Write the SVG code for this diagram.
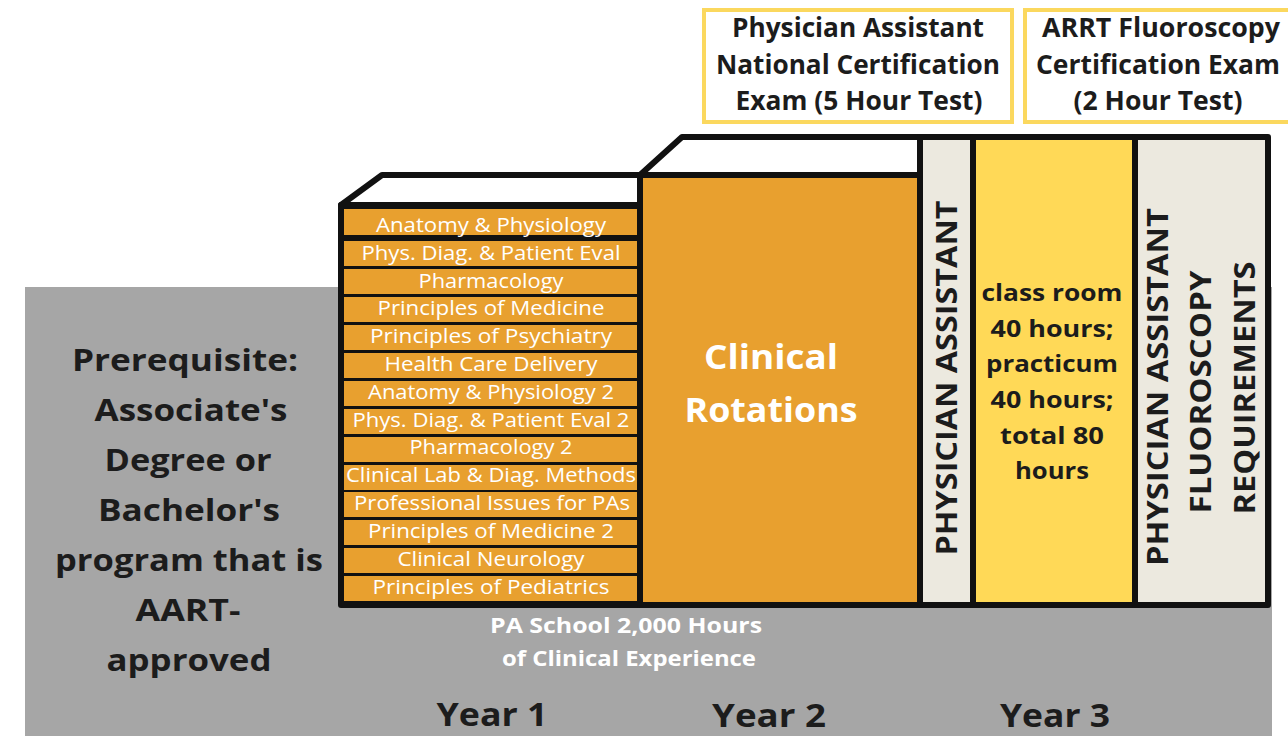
<svg xmlns="http://www.w3.org/2000/svg" width="1288" height="736" viewBox="0 0 1288 736">
<style>
.ln{stroke:#111;stroke-width:6;stroke-linejoin:round}
.course{font-family:"Open Sans","Liberation Sans",sans-serif;font-size:20px;fill:#fff;text-anchor:middle}
.dark{font-family:"Open Sans","Liberation Sans",sans-serif;font-weight:bold;fill:#1c1c1c;text-anchor:middle}
.vert{font-family:"Open Sans","Liberation Sans",sans-serif;font-weight:bold;fill:#1c1c1c;text-anchor:middle;font-size:29px}
.white{font-family:"Open Sans","Liberation Sans",sans-serif;font-weight:bold;fill:#fff;text-anchor:middle}
.exam{fill:#fff;stroke:#FBD85E;stroke-width:4}
.row{fill:#E8A02F}
</style>
<rect id="background" x="25" y="287" width="1247" height="449" fill="#A6A6A6"/>

<g id="exam-pa">
<rect class="exam" x="704" y="10" width="308" height="112"/>
<text class="dark" font-size="26" x="858" y="37" textLength="252" lengthAdjust="spacingAndGlyphs">Physician Assistant</text>
<text class="dark" font-size="26" x="858" y="74" textLength="284" lengthAdjust="spacingAndGlyphs">National Certification</text>
<text class="dark" font-size="26" x="859" y="110" textLength="247" lengthAdjust="spacingAndGlyphs">Exam (5 Hour Test)</text>
</g>
<g id="exam-arrt">
<rect class="exam" x="1025" y="10" width="270" height="112"/>
<text class="dark" font-size="26" x="1161" y="37" textLength="238" lengthAdjust="spacingAndGlyphs">ARRT Fluoroscopy</text>
<text class="dark" font-size="26" x="1158" y="74" textLength="244" lengthAdjust="spacingAndGlyphs">Certification Exam</text>
<text class="dark" font-size="26" x="1158" y="110" textLength="169" lengthAdjust="spacingAndGlyphs">(2 Hour Test)</text>
</g>

<g id="prerequisite">
<text class="dark" font-size="31" x="185" y="371" textLength="226" lengthAdjust="spacingAndGlyphs">Prerequisite:</text>
<text class="dark" font-size="31" x="191" y="421" textLength="193" lengthAdjust="spacingAndGlyphs">Associate's</text>
<text class="dark" font-size="31" x="188" y="471" textLength="167" lengthAdjust="spacingAndGlyphs">Degree or</text>
<text class="dark" font-size="31" x="189" y="521" textLength="182" lengthAdjust="spacingAndGlyphs">Bachelor's</text>
<text class="dark" font-size="31" x="189" y="571" textLength="268" lengthAdjust="spacingAndGlyphs">program that is</text>
<text class="dark" font-size="31" x="188" y="621" textLength="105" lengthAdjust="spacingAndGlyphs">AART-</text>
<text class="dark" font-size="31" x="189" y="671" textLength="165" lengthAdjust="spacingAndGlyphs">approved</text>
</g>

<g id="year1">
<polygon class="ln" fill="#fff" points="341,205 382,175 640,175 640,205"/>
<rect class="ln" x="341" y="205" width="299" height="400" fill="#111"/>
<g>
<rect class="row" x="344" y="209" width="293" height="26"/>
<rect class="row" x="344" y="241" width="293" height="25"/>
<rect class="row" x="344" y="269" width="293" height="25"/>
<rect class="row" x="344" y="297" width="293" height="25"/>
<rect class="row" x="344" y="325" width="293" height="25"/>
<rect class="row" x="344" y="353" width="293" height="25"/>
<rect class="row" x="344" y="381" width="293" height="25"/>
<rect class="row" x="344" y="409" width="293" height="25"/>
<rect class="row" x="344" y="437" width="293" height="25"/>
<rect class="row" x="344" y="465" width="293" height="25"/>
<rect class="row" x="344" y="492" width="293" height="25"/>
<rect class="row" x="344" y="520" width="293" height="25"/>
<rect class="row" x="344" y="548" width="293" height="25"/>
<rect class="row" x="344" y="576" width="293" height="25"/>
</g>
<text class="course" x="491" y="232" textLength="230" lengthAdjust="spacingAndGlyphs">Anatomy &amp; Physiology</text>
<text class="course" x="491" y="260" textLength="259" lengthAdjust="spacingAndGlyphs">Phys. Diag. &amp; Patient Eval</text>
<text class="course" x="491" y="288" textLength="145" lengthAdjust="spacingAndGlyphs">Pharmacology</text>
<text class="course" x="491" y="315" textLength="227" lengthAdjust="spacingAndGlyphs">Principles of Medicine</text>
<text class="course" x="491" y="343" textLength="242" lengthAdjust="spacingAndGlyphs">Principles of Psychiatry</text>
<text class="course" x="491" y="371" textLength="213" lengthAdjust="spacingAndGlyphs">Health Care Delivery</text>
<text class="course" x="491" y="399" textLength="246" lengthAdjust="spacingAndGlyphs">Anatomy &amp; Physiology 2</text>
<text class="course" x="491" y="427" textLength="277" lengthAdjust="spacingAndGlyphs">Phys. Diag. &amp; Patient Eval 2</text>
<text class="course" x="491" y="454" textLength="163" lengthAdjust="spacingAndGlyphs">Pharmacology 2</text>
<text class="course" x="491" y="482" textLength="290" lengthAdjust="spacingAndGlyphs">Clinical Lab &amp; Diag. Methods</text>
<text class="course" x="492" y="510" textLength="276" lengthAdjust="spacingAndGlyphs">Professional Issues for PAs</text>
<text class="course" x="491" y="538" textLength="246" lengthAdjust="spacingAndGlyphs">Principles of Medicine 2</text>
<text class="course" x="491" y="566" textLength="187" lengthAdjust="spacingAndGlyphs">Clinical Neurology</text>
<text class="course" x="491" y="594" textLength="237" lengthAdjust="spacingAndGlyphs">Principles of Pediatrics</text>
</g>

<g id="year2">
<polygon class="ln" fill="#fff" points="640,175 682,137 920,137 920,175"/>
<rect class="ln" x="640" y="175" width="280" height="430" fill="#E8A02F"/>
<text class="white" font-size="34" x="771" y="369" textLength="134" lengthAdjust="spacingAndGlyphs">Clinical</text>
<text class="white" font-size="34" x="771" y="422" textLength="173" lengthAdjust="spacingAndGlyphs">Rotations</text>
</g>

<g id="year3">
<rect class="ln" x="920" y="137" width="53" height="468" fill="#ECE9DF"/>
<rect class="ln" x="973" y="137" width="162" height="468" fill="#FFD957"/>
<rect class="ln" x="1135" y="137" width="133" height="468" fill="#ECE9DF"/>
<text class="vert" transform="translate(957,378) rotate(-90)" textLength="355" lengthAdjust="spacingAndGlyphs">PHYSICIAN ASSISTANT</text>
<text class="dark" font-size="23" x="1052" y="301" textLength="141" lengthAdjust="spacingAndGlyphs">class room</text>
<text class="dark" font-size="23" x="1052" y="337" textLength="123" lengthAdjust="spacingAndGlyphs">40 hours;</text>
<text class="dark" font-size="23" x="1052" y="372" textLength="132" lengthAdjust="spacingAndGlyphs">practicum</text>
<text class="dark" font-size="23" x="1052" y="408" textLength="123" lengthAdjust="spacingAndGlyphs">40 hours;</text>
<text class="dark" font-size="23" x="1052" y="444" textLength="104" lengthAdjust="spacingAndGlyphs">total 80</text>
<text class="dark" font-size="23" x="1052" y="479" textLength="74" lengthAdjust="spacingAndGlyphs">hours</text>
<text class="vert" transform="translate(1168,387) rotate(-90)" textLength="358" lengthAdjust="spacingAndGlyphs">PHYSICIAN ASSISTANT</text>
<text class="vert" transform="translate(1211,392) rotate(-90)" textLength="243" lengthAdjust="spacingAndGlyphs">FLUOROSCOPY</text>
<text class="vert" transform="translate(1255,388) rotate(-90)" textLength="253" lengthAdjust="spacingAndGlyphs">REQUIREMENTS</text>
</g>

<g id="pa-school-note">
<text class="white" font-size="21" x="626" y="633" textLength="272" lengthAdjust="spacingAndGlyphs">PA School 2,000 Hours</text>
<text class="white" font-size="21" x="629" y="666" textLength="254" lengthAdjust="spacingAndGlyphs">of Clinical Experience</text>
</g>

<g id="year-labels">
<text class="dark" font-size="32" x="492" y="726" textLength="111" lengthAdjust="spacingAndGlyphs">Year 1</text>
<text class="dark" font-size="32" x="769" y="727" textLength="114" lengthAdjust="spacingAndGlyphs">Year 2</text>
<text class="dark" font-size="32" x="1055" y="727" textLength="110" lengthAdjust="spacingAndGlyphs">Year 3</text>
</g>
<g id="connectors"/>
</svg>
